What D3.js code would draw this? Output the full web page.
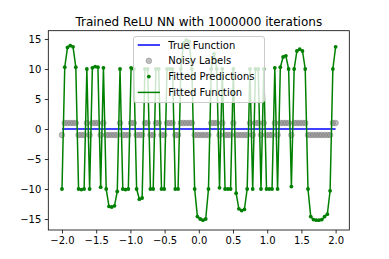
<!DOCTYPE html>
<html>
<head>
<meta charset="utf-8">
<script src="https://cdn.jsdelivr.net/npm/d3@7"></script>
<style>
  html, body { margin: 0; padding: 0; background: #ffffff; }
  svg { display: block; font-family: "DejaVu Sans", sans-serif; }
</style>
</head>
<body>
<svg id="chart" width="389" height="259"></svg>
<script>
// ---- data ----
const titleText = "Trained ReLU NN with 1000000 iterations";
const nPoints = 100;           // evenly spaced samples on [-2, 2]
const xMin = -2, xMax = 2;
const trueValues = [0, 0];     // true function: constant zero over [-2, 2]
const trueX = [-2, 2];

// noisy labels (+1 / -1), one per sample
const noisyLabels = [
  -1, 1, 1, 1, 1, 1, -1, -1, -1, 1,
  -1, 1, 1, 1, -1, 1, -1, -1, -1, -1,
  -1, 1, -1, -1, -1, 1, 1, -1, -1, -1,
  1, 1, -1, -1, 1, 1, -1, -1, 1, 1,
  1, -1, -1, 1, 1, 1, 1, 1, -1, -1,
  -1, -1, -1, -1, 1, 1, 1, -1, 1, -1,
  -1, -1, 1, -1, -1, -1, -1, -1, 1, -1,
  1, 1, -1, 1, -1, -1, -1, 1, -1, 1,
  1, 1, 1, -1, 1, 1, 1, 1, 1, -1,
  -1, -1, -1, -1, -1, -1, -1, -1, 1, 1
];

// fitted predictions of the network at the samples
const fittedPredictions = [
  -10, 10.3, 13.6, 13.9, 13.7, 10.3, -10, -10.1, -10, 10,
  -10, 10.2, 10.4, 10.3, -9.7, 10.2, -10, -12.9, -13.0, -12.8,
  -10.4, 10, -10, -10.1, -10, 10.2, 10, -10, -11.7, -11.5,
  10, 10, -10, -10, 10, 10, -10, -10, 10, 10,
  10, -10, -10, 10, 14.3, 14.8, 14.6, 10, -10, -14.6,
  -15.0, -15.2, -15.0, -10, 10, 12.5, 10, -9.8, 10, -10,
  -10, -10, 10, -10.7, -13.3, -13.6, -13.4, -10, 10, -10,
  10, 10, -10, 10, -10, -10, -10, 10.2, -10, 10.3,
  12, 12.2, 10, -9.6, 10, 13, 13.3, 13, 10, -10,
  -14.6, -15.1, -15.2, -15.2, -15.1, -14.6, -14.2, -10.3, 10, 13.7
];

const xTicks = [-2, -1.5, -1, -0.5, 0, 0.5, 1, 1.5, 2];
const yTicks = [-15, -10, -5, 0, 5, 10, 15];
const legendLabels = ["True Function", "Noisy Labels", "Fitted Predictions", "Fitted Function"];

// ---- layout ----
const plot = { left: 48.3, right: 349.3, top: 30.7, bottom: 230 };
const svg = d3.select("#chart");

const xs = d3.range(nPoints).map(i => xMin + (xMax - xMin) * i / (nPoints - 1));

const x = d3.scaleLinear().domain([-2.2, 2.2]).range([plot.left, plot.right]);
const y = d3.scaleLinear().domain([-16.83, 16.38]).range([plot.bottom, plot.top]);

const clip = svg.append("defs").append("clipPath").attr("id", "clip")
  .append("rect")
  .attr("x", plot.left).attr("y", plot.top)
  .attr("width", plot.right - plot.left).attr("height", plot.bottom - plot.top);

const g = svg.append("g").attr("clip-path", "url(#clip)");

// true function
g.append("path")
  .datum(trueX.map((v, i) => [v, trueValues[i]]))
  .attr("fill", "none").attr("stroke", "#0000ff").attr("stroke-width", 1.5)
  .attr("d", d3.line().x(d => x(d[0])).y(d => y(d[1])));

// noisy labels
g.append("g").selectAll("circle")
  .data(noisyLabels.map((v, i) => [xs[i], v]))
  .join("circle")
  .attr("cx", d => x(d[0])).attr("cy", d => y(d[1]))
  .attr("r", 2.8)
  .attr("fill", "#808080").attr("fill-opacity", 0.5)
  .attr("stroke", "#808080").attr("stroke-opacity", 0.5).attr("stroke-width", 1);

// fitted predictions (dots)
g.append("g").selectAll("circle")
  .data(fittedPredictions.map((v, i) => [xs[i], v]))
  .join("circle")
  .attr("cx", d => x(d[0])).attr("cy", d => y(d[1]))
  .attr("r", 1.9)
  .attr("fill", "#008000");

// fitted function (line)
g.append("path")
  .datum(fittedPredictions.map((v, i) => [xs[i], v]))
  .attr("fill", "none").attr("stroke", "#008000").attr("stroke-width", 1.5)
  .attr("stroke-linejoin", "round")
  .attr("d", d3.line().x(d => x(d[0])).y(d => y(d[1])));

// ---- axes ----
const fmtX = v => (v < 0 ? "\u2212" : "") + Math.abs(v).toFixed(1);
const fmtY = v => (v < 0 ? "\u2212" : "") + Math.abs(v).toString();

const xAxis = svg.append("g")
  .attr("transform", `translate(0,${plot.bottom})`)
  .call(d3.axisBottom(x).tickValues(xTicks).tickFormat(fmtX).tickSize(3.5).tickPadding(3.5));
const yAxis = svg.append("g")
  .attr("transform", `translate(${plot.left},0)`)
  .call(d3.axisLeft(y).tickValues(yTicks).tickFormat(fmtY).tickSize(3.5).tickPadding(3.5));

[xAxis, yAxis].forEach(a => {
  a.select(".domain").remove();
  a.selectAll("line").attr("stroke", "#000").attr("stroke-width", 0.8);
  a.selectAll("text").attr("fill", "#000")
    .style("font-family", "'DejaVu Sans', sans-serif").style("font-size", "10px");
});

// spines
svg.append("rect")
  .attr("x", plot.left).attr("y", plot.top)
  .attr("width", plot.right - plot.left).attr("height", plot.bottom - plot.top)
  .attr("fill", "none").attr("stroke", "#000").attr("stroke-width", 0.8);

// title
svg.append("text")
  .attr("x", (plot.left + plot.right) / 2).attr("y", 26)
  .attr("text-anchor", "middle")
  .style("font-size", "12px").attr("fill", "#000")
  .text(titleText);

// ---- legend ----
const leg = svg.append("g");
leg.append("rect")
  .attr("x", 133.5).attr("y", 36.5).attr("width", 131).attr("height", 66)
  .attr("rx", 2.5)
  .attr("fill", "#ffffff").attr("fill-opacity", 0.8)
  .attr("stroke", "#cccccc").attr("stroke-width", 1);

const rowY = [45, 60.8, 76.6, 92.4];
const hx0 = 137.7, hx1 = 160, hxc = (137.7 + 160) / 2, tx = 168.3;

leg.append("line").attr("x1", hx0).attr("x2", hx1).attr("y1", rowY[0]).attr("y2", rowY[0])
  .attr("stroke", "#0000ff").attr("stroke-width", 1.5);
leg.append("circle").attr("cx", hxc).attr("cy", rowY[1]).attr("r", 2.8)
  .attr("fill", "#808080").attr("fill-opacity", 0.5)
  .attr("stroke", "#808080").attr("stroke-opacity", 0.5).attr("stroke-width", 1);
leg.append("circle").attr("cx", hxc).attr("cy", rowY[2]).attr("r", 1.9).attr("fill", "#008000");
leg.append("line").attr("x1", hx0).attr("x2", hx1).attr("y1", rowY[3]).attr("y2", rowY[3])
  .attr("stroke", "#008000").attr("stroke-width", 1.5);

leg.selectAll("text.lab").data(legendLabels).join("text")
  .attr("class", "lab")
  .attr("x", tx).attr("y", (d, i) => rowY[i] + 3.6)
  .style("font-size", "10px").attr("fill", "#000")
  .text(d => d);
</script>
</body>
</html>
